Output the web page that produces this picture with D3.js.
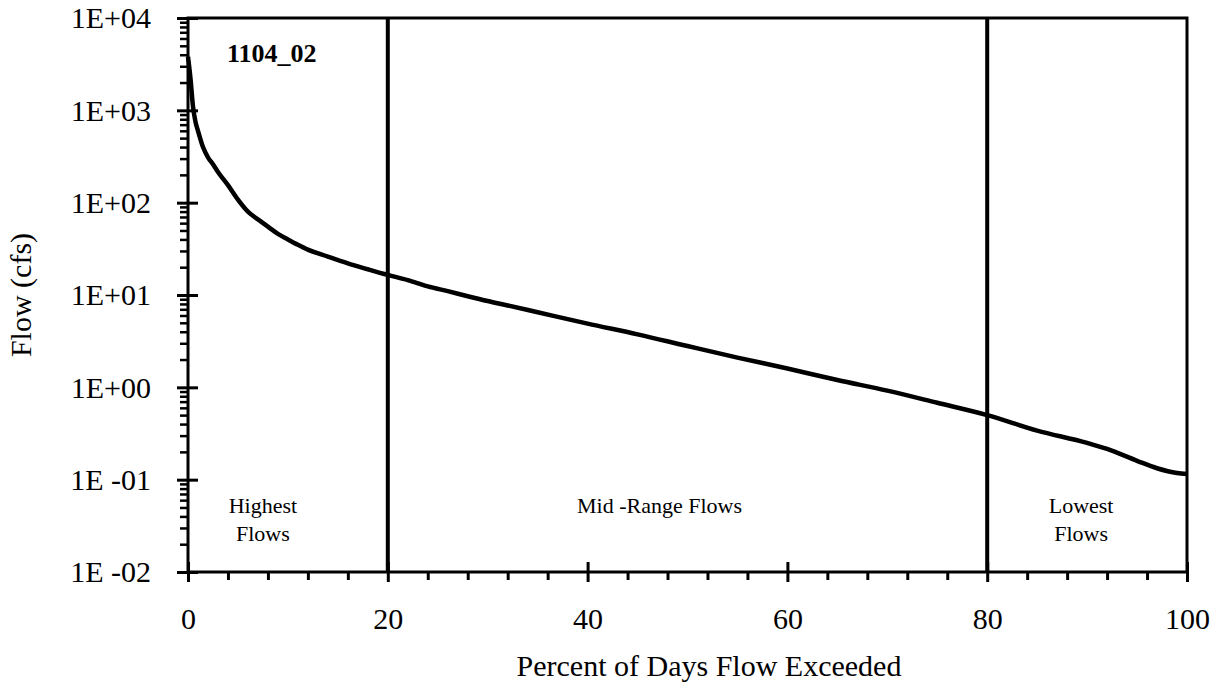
<!DOCTYPE html>
<html>
<head>
<meta charset="utf-8">
<script src="https://cdn.jsdelivr.net/npm/d3@7"></script>
<style>
  body { margin: 0; background: #fff; }
  text { font-family: "Times New Roman", "Liberation Serif", serif; fill: #000; }
</style>
</head>
<body>
<div id="chart"></div>
<script>
// flow duration curve
const pctExceeded = [0, 0.25, 0.5, 0.75, 1, 1.5, 2, 2.5, 3, 4, 5, 6, 6.5, 7, 8, 9, 10, 11, 12, 14, 16, 18, 20,
  22, 24, 26, 28, 30, 32, 35, 40, 45, 50, 55, 60, 65, 70, 75, 80, 85, 90, 92, 95, 97, 99, 100];
const flowCfs = [3800, 2200, 1100, 750, 600, 400, 310, 260, 215, 155, 108, 80, 72, 66, 55, 46, 40, 35, 31, 26, 22, 19, 16.5,
  14.5, 12.4, 11, 9.7, 8.6, 7.7, 6.5, 4.9, 3.75, 2.8, 2.1, 1.6, 1.2, 0.92, 0.68, 0.5, 0.34, 0.25, 0.215, 0.16, 0.133, 0.118, 0.115];

const xTicks = [0, 20, 40, 60, 80, 100];
const yTicks = [0.01, 0.1, 1, 10, 100, 1000, 10000];
const yTickLabels = ["1E -02", "1E -01", "1E+00", "1E+01", "1E+02", "1E+03", "1E+04"];
const zoneBreaks = [20, 80];
const zones = [
  { x: 7.5, lines: ["Highest", "Flows"] },
  { x: 47.2, lines: ["Mid -Range Flows"] },
  { x: 89.4, lines: ["Lowest", "Flows"] }
];
const stationId = "1104_02";

(() => {
  const width = 1222, height = 688;
  const svg = d3.select("#chart").append("svg")
    .attr("width", width)
    .attr("height", height);

  const x = d3.scaleLinear().domain([0, 100]).range([188, 1187]);
  const y = d3.scaleLog().domain([0.01, 10000]).range([572, 18]);

  // minor ticks
  const xMinor = d3.range(0, 101, 4).filter(v => !xTicks.includes(v));
  const yMinor = [];
  yTicks.slice(0, -1).forEach(d => { for (let k = 2; k < 10; k++) yMinor.push(d * k); });

  svg.append("g")
    .attr("transform", `translate(0,${y(0.01)})`)
    .call(d3.axisBottom(x).tickValues(xMinor).tickSize(8).tickFormat(""))
    .call(g => g.select(".domain").remove())
    .selectAll("line").attr("stroke-width", 3);

  svg.append("g")
    .attr("transform", `translate(${x(0)},0)`)
    .call(d3.axisLeft(y).tickValues(yMinor).tickSize(8).tickFormat(""))
    .call(g => g.select(".domain").remove())
    .selectAll("line").attr("stroke-width", 2.5);

  // major ticks, crossing the axis
  const xAxis = svg.append("g")
    .attr("transform", `translate(0,${y(0.01)})`)
    .call(d3.axisBottom(x).tickValues(xTicks).tickSize(10).tickPadding(26).tickFormat(d3.format("d")))
    .call(g => g.select(".domain").remove());
  xAxis.selectAll("line").attr("y1", -10).attr("stroke-width", 3);
  xAxis.selectAll("text").style("font-size", "30px");

  const yAxis = svg.append("g")
    .attr("transform", `translate(${x(0)},0)`)
    .call(d3.axisLeft(y).tickValues(yTicks).tickSize(11).tickPadding(26)
      .tickFormat((d, i) => yTickLabels[i]))
    .call(g => g.select(".domain").remove());
  yAxis.selectAll("line").attr("x1", 10).attr("stroke-width", 3);
  yAxis.selectAll("text").style("font-size", "30px").attr("dy", "0.33em");

  // frame
  svg.append("rect")
    .attr("x", x(0)).attr("y", y(10000))
    .attr("width", x(100) - x(0)).attr("height", y(0.01) - y(10000))
    .attr("fill", "none").attr("stroke", "#000").attr("stroke-width", 3);

  // zone boundaries
  svg.selectAll("line.zone")
    .data(zoneBreaks)
    .join("line")
    .attr("class", "zone")
    .attr("x1", d => x(d)).attr("x2", d => x(d))
    .attr("y1", y(10000)).attr("y2", y(0.01))
    .attr("stroke", "#000").attr("stroke-width", 4);

  // curve
  const line = d3.line()
    .x((d, i) => x(pctExceeded[i]))
    .y(d => y(d))
    .curve(d3.curveMonotoneX);

  svg.append("path")
    .datum(flowCfs)
    .attr("d", line)
    .attr("fill", "none")
    .attr("stroke", "#000")
    .attr("stroke-width", 4.5)
    .attr("stroke-linejoin", "round");

  // zone labels
  zones.forEach(z => {
    svg.append("g").selectAll("text")
      .data(z.lines)
      .join("text")
      .attr("x", x(z.x))
      .attr("y", (d, i) => 505 + i * 28)
      .attr("dy", "0.35em")
      .attr("text-anchor", "middle")
      .style("font-size", "22px")
      .text(d => d);
  });

  svg.append("text")
    .attr("x", 227).attr("y", 62)
    .style("font-size", "26px")
    .style("font-weight", "bold")
    .text(stationId);

  svg.append("text")
    .attr("x", 709).attr("y", 676)
    .attr("text-anchor", "middle")
    .style("font-size", "30px")
    .text("Percent of Days Flow Exceeded");

  svg.append("text")
    .attr("transform", `translate(31,${(y(0.01) + y(10000)) / 2}) rotate(-90)`)
    .attr("text-anchor", "middle")
    .style("font-size", "30px")
    .text("Flow (cfs)");
})();
</script>
</body>
</html>
